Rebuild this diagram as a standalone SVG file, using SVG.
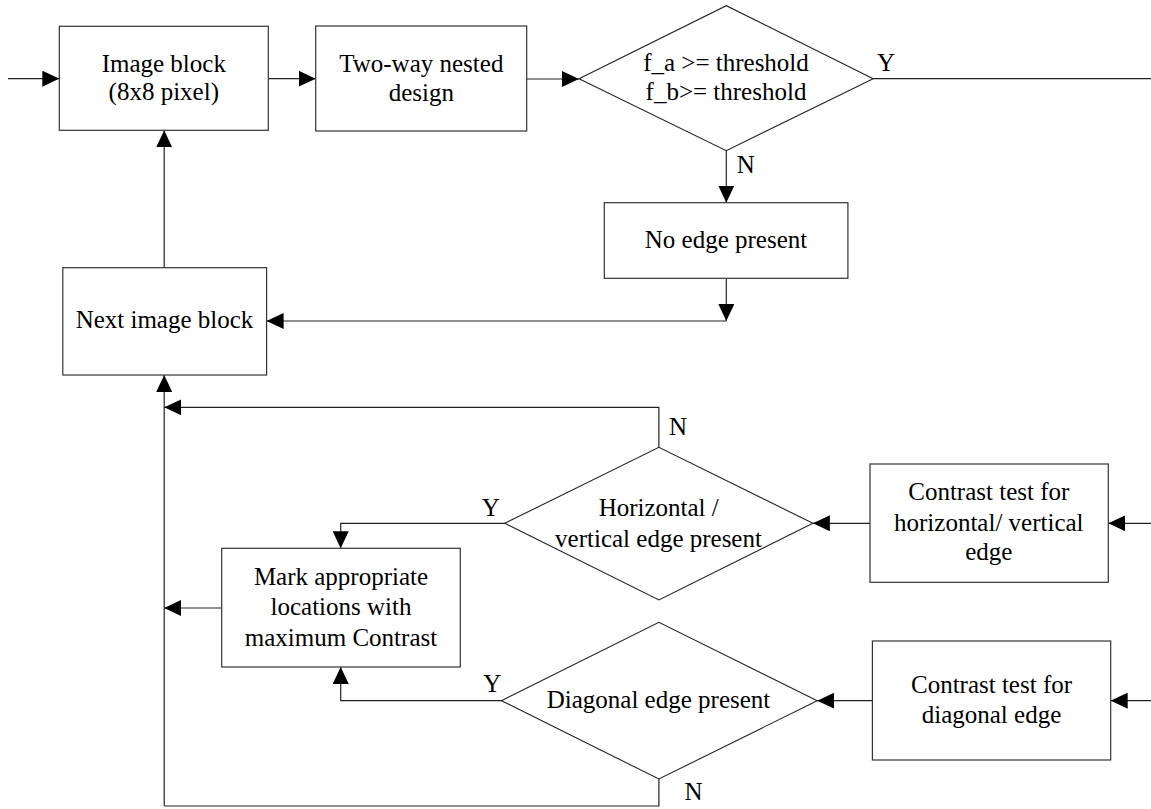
<svg xmlns="http://www.w3.org/2000/svg" width="1151" height="809" viewBox="0 0 1151 809" font-family="'Liberation Serif', 'Times New Roman', 'DejaVu Serif', serif" font-size="25">
<style>
.box{fill:#fff;stroke:#333;stroke-width:1.2}
.dia{fill:#fff;stroke:#222;stroke-width:1.1}
.ln{fill:none;stroke:#222;stroke-width:1.2}
.arr{marker-end:url(#ah)}
.t{font-family:'Liberation Serif','Times New Roman','DejaVu Serif',serif;font-size:25px;fill:#000}
.c{text-anchor:middle}
</style>
<defs>
<marker id="ah" viewBox="0 0 17 16" refX="17" refY="8" markerWidth="17" markerHeight="16" markerUnits="userSpaceOnUse" orient="auto">
<path d="M0,0 L17,8 L0,16 Z" fill="#000"/>
</marker>
</defs>
<rect width="1151" height="809" fill="#fff"/>
<g id="connectors">
<path class="ln arr" d="M8,78.7 H59.3"/>
<path class="ln arr" d="M268.3,78.7 H315.7"/>
<path class="ln arr" d="M526.7,79 H579"/>
<path class="ln" d="M873.2,78.7 H1151"/>
<path class="ln arr" d="M726.3,150.7 V202.7"/>
<path class="ln arr" d="M726.3,278.3 V321"/>
<path class="ln arr" d="M726.3,321 H266.6"/>
<path class="ln arr" d="M164.2,267.7 V130.3"/>
<path class="ln arr" d="M164.2,806 V375"/>
<path class="ln arr" d="M658.9,447.3 V407.3 H164.2"/>
<path class="ln arr" d="M221.7,608 H164.2"/>
<path class="ln arr" d="M504.8,523.3 H340.7 V548.3"/>
<path class="ln arr" d="M501.4,700.7 H340.7 V667"/>
<path class="ln" d="M658.9,779 V806 H164.2"/>
<path class="ln arr" d="M1151,523.3 H1108.3"/>
<path class="ln arr" d="M870,523.3 H812.9"/>
<path class="ln arr" d="M1151,700.7 H1110.7"/>
<path class="ln arr" d="M872.4,700.7 H817.2"/>
<text class="t" x="877" y="70.7">Y</text>
<text class="t" x="736.8" y="173.3">N</text>
<text class="t" x="669" y="435">N</text>
<text class="t" x="481.7" y="516">Y</text>
<text class="t" x="483.3" y="691.7">Y</text>
<text class="t" x="684.5" y="800">N</text>
</g>
<g id="image-block">
<rect class="box" x="59.3" y="26.3" width="209" height="104"/>
<text class="t c" x="163.8" y="71.5">Image block</text>
<text class="t c" x="163.8" y="100">(8x8 pixel)</text>
</g>
<g id="two-way">
<rect class="box" x="315.7" y="26" width="211" height="105"/>
<text class="t c" x="421.3" y="72.3">Two-way nested</text>
<text class="t c" x="421.3" y="100.5">design</text>
</g>
<g id="threshold">
<polygon class="dia" points="579,78.7 726.3,5.7 873.2,78.7 726.3,150.7"/>
<text class="t c" x="726" y="70.7">f_a &gt;= threshold</text>
<text class="t c" x="726" y="100">f_b&gt;= threshold</text>
</g>
<g id="no-edge">
<rect class="box" x="604.3" y="202.7" width="243.6" height="75.6"/>
<text class="t c" x="726" y="248.3">No edge present</text>
</g>
<g id="next-block">
<rect class="box" x="62.8" y="267.7" width="203.8" height="107.3"/>
<text class="t c" x="164.5" y="328.3">Next image block</text>
</g>
<g id="mark">
<rect class="box" x="221.7" y="548.3" width="238.6" height="118.7"/>
<text class="t c" x="341" y="585">Mark appropriate</text>
<text class="t c" x="341" y="615">locations with</text>
<text class="t c" x="341" y="646">maximum Contrast</text>
</g>
<g id="hv-present">
<polygon class="dia" points="504.8,523.3 658.9,447.3 812.9,523.3 658.9,600"/>
<text class="t c" x="658.7" y="516">Horizontal /</text>
<text class="t c" x="658.5" y="546.7">vertical edge present</text>
</g>
<g id="hv-test">
<rect class="box" x="870" y="464" width="238.3" height="118.3"/>
<text class="t c" x="988.8" y="500">Contrast test for</text>
<text class="t c" x="988.8" y="531">horizontal/ vertical</text>
<text class="t c" x="988.8" y="560">edge</text>
</g>
<g id="diag-present">
<polygon class="dia" points="501.4,700.7 658.9,622.3 817.2,700.7 658.9,779"/>
<text class="t c" x="658.5" y="708.3">Diagonal edge present</text>
</g>
<g id="diag-test">
<rect class="box" x="872.4" y="641" width="238.3" height="119"/>
<text class="t c" x="991.5" y="693.3">Contrast test for</text>
<text class="t c" x="991.5" y="723.3">diagonal edge</text>
</g>
</svg>
